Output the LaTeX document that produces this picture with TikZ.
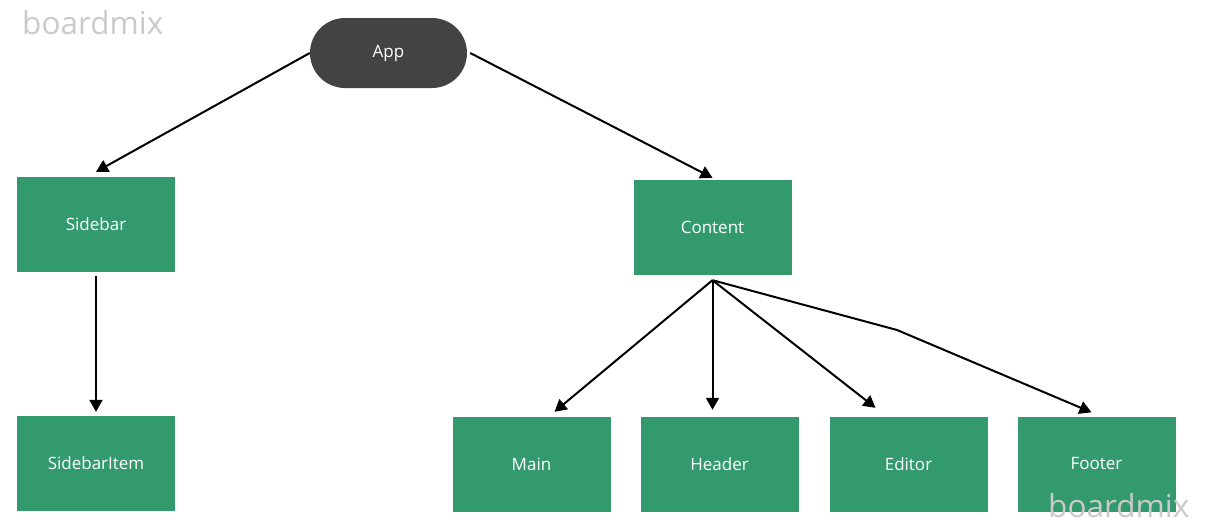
\documentclass[tikz,border=0pt]{standalone}
\usepackage{fontspec}
\setmainfont{Open Sans}
\usetikzlibrary{arrows.meta,shapes.misc,calc}
\definecolor{boxgreen}{HTML}{339A6E}
\definecolor{appgray}{HTML}{434343}
\definecolor{markgray}{HTML}{CACACA}
\begin{document}
\begin{tikzpicture}[
                  x=1pt, y=-1pt,
                  root/.style={rounded rectangle, fill=appgray, text=white,
                    minimum width=157pt, minimum height=70pt, inner sep=0pt,
                    font=\fontsize{17}{20}\selectfont},
                  comp/.style={rectangle, fill=boxgreen, text=white,
                    minimum width=158pt, minimum height=95pt, inner sep=0pt,
                    font=\fontsize{17}{20}\selectfont},
                  link/.style={-{Triangle[length=12pt,width=13pt]}, line width=2pt},
                  watermark/.style={text=markgray, inner sep=0pt, anchor=base west,
                    font=\fontsize{31.5}{36}\selectfont}
                ]
                  \useasboundingbox (0,0) rectangle (1212,530);
                  \node[watermark] (markTop) at (22,34) {boardmix};
                  \node[root] (app) at (388.5,53) {App};
                  \node[comp] (sidebar) at (96,224.5) {Sidebar};
                  \node[comp] (content) at (712.5,227.5) {Content};
                  \node[comp] (sidebarItem) at (96,463.5) {SidebarItem};
                  \node[comp] (main) at (531.5,464.5) {Main};
                  \node[comp] (header) at (719.5,464.5) {Header};
                  \node[comp] (editor) at (908.5,464.5) {Editor};
                  \node[comp] (footer) at (1096.5,464) {Footer};
                  \coordinate (footerBend) at (897,330);
                  \draw[link] (app.west) -- ($(sidebar.north)+(0,-5)$);
                  \draw[link] ($(app.east)+(3,0)$) -- ($(content.north)+(0,-2)$);
                  \draw[link] ($(sidebar.south)+(0,4)$) -- ($(sidebarItem.north)+(0,-4)$);
                  \draw[link] ($(content.south)+(0,5)$) -- ($(main.north)+(23,-5)$);
                  \draw[link] ($(content.south)+(0,5)$) -- ($(header.north)+(-7,-7)$);
                  \draw[link] ($(content.south)+(0,5)$) -- ($(editor.north)+(-33,-9)$);
                  \draw[link] ($(content.south)+(0,5)$) -- (footerBend) -- ($(footer.north)+(-5,-4)$);
                  \node[watermark] (markBottom) at (1048,517) {boardmix};
                \end{tikzpicture}
\end{document}
